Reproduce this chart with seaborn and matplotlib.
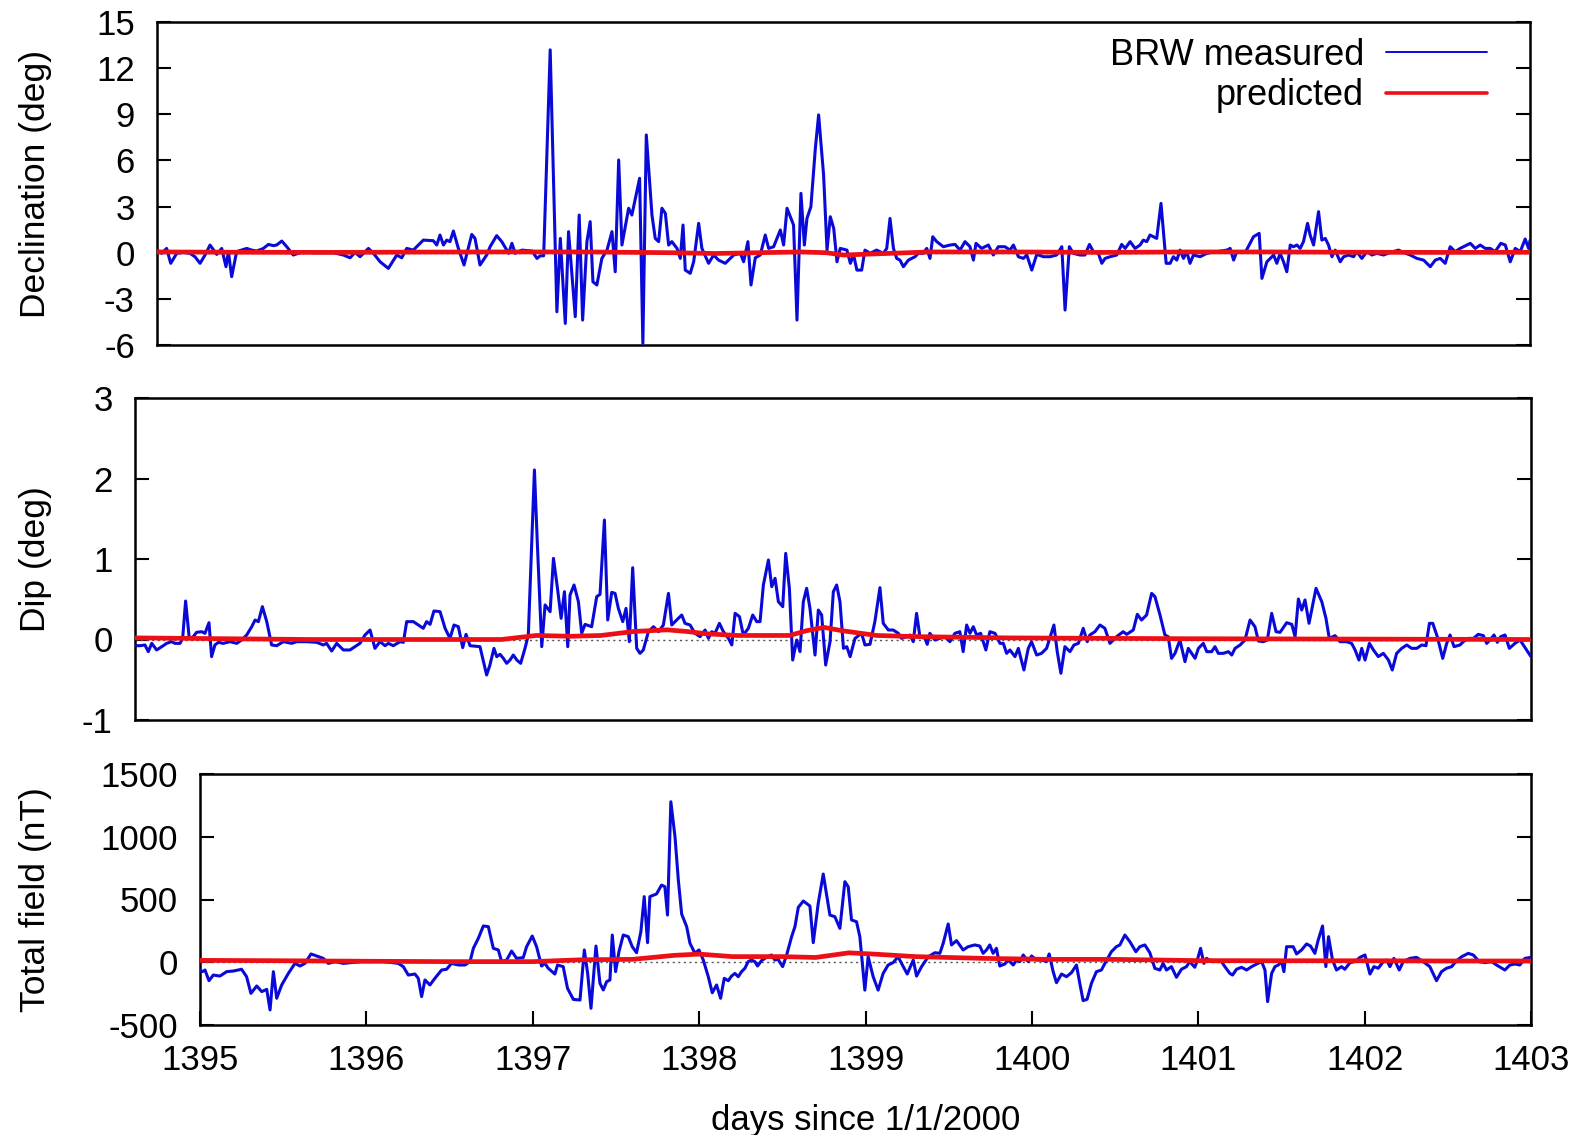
import numpy as np
import pandas as pd
import matplotlib
matplotlib.use("Agg")
import matplotlib.pyplot as plt
import seaborn as sns

DAY0 = 1395

# ---- Declination measured: (days after DAY0, deg) ----
decl_meas = [
    (0.000, 0.17), (0.027, -0.04), (0.056, 0.28), (0.080, -0.69), (0.115, -0.04), (0.153, 0.02),
    (0.192, -0.04), (0.221, -0.26), (0.251, -0.69), (0.280, -0.15), (0.309, 0.50), (0.348, -0.11),
    (0.377, 0.28), (0.402, -0.91), (0.416, 0.07), (0.435, -1.56), (0.464, 0.07), (0.493, 0.17),
    (0.523, 0.28), (0.552, 0.17), (0.581, 0.11), (0.620, 0.28), (0.649, 0.54), (0.678, 0.46),
    (0.697, 0.50), (0.727, 0.76), (0.756, 0.39), (0.794, -0.15), (0.824, -0.04), (0.853, 0.07),
    (0.911, 0.0), (0.969, 0.0), (1.028, 0.0), (1.086, -0.15), (1.125, -0.33), (1.154, 0.02),
    (1.183, -0.26), (1.232, 0.28), (1.261, -0.04), (1.300, -0.59), (1.348, -1.02), (1.397, -0.15),
    (1.426, -0.33), (1.455, 0.28), (1.494, 0.17), (1.513, 0.39), (1.552, 0.82), (1.610, 0.78),
    (1.630, 0.50), (1.649, 1.15), (1.669, 0.50), (1.688, 0.82), (1.707, 0.72), (1.727, 1.41),
    (1.756, 0.28), (1.789, -0.80), (1.834, 1.19), (1.853, 0.93), (1.882, -0.80), (1.921, -0.15),
    (1.941, 0.39), (1.979, 1.11), (2.009, 0.72), (2.049, -0.04), (2.068, 0.61), (2.087, -0.04),
    (2.126, 0.17), (2.185, 0.11), (2.214, -0.37), (2.233, -0.20), (2.253, -0.20), (2.291, 13.19),
    (2.330, -3.84), (2.350, 0.93), (2.379, -4.60), (2.398, 1.37), (2.437, -4.16), (2.460, 2.45),
    (2.480, -4.38), (2.505, 0.72), (2.524, 2.02), (2.540, -1.89), (2.563, -2.10), (2.592, -0.37),
    (2.622, 0.17), (2.651, 1.37), (2.670, -1.24), (2.690, 6.03), (2.709, 0.50), (2.748, 2.89),
    (2.767, 2.45), (2.812, 4.84), (2.831, -5.90), (2.851, 7.66), (2.884, 2.45), (2.903, 0.93),
    (2.923, 0.72), (2.942, 2.89), (2.962, 2.56), (2.981, 0.50), (3.000, 0.72), (3.030, 0.28),
    (3.049, -0.37), (3.065, 1.80), (3.078, -1.13), (3.107, -1.34), (3.127, -0.59), (3.156, 1.91),
    (3.175, 0.28), (3.214, -0.69), (3.243, -0.15), (3.272, -0.48), (3.311, -0.69), (3.360, -0.15),
    (3.399, -0.04), (3.418, -0.59), (3.443, 0.72), (3.461, -2.10), (3.486, -0.33), (3.515, -0.15),
    (3.544, 1.15), (3.564, 0.28), (3.593, 0.39), (3.632, 1.48), (3.651, 0.50), (3.671, 2.89),
    (3.709, 1.80), (3.729, -4.38), (3.752, 3.86), (3.772, 0.50), (3.787, 2.23), (3.810, 2.99),
    (3.836, 6.79), (3.855, 8.96), (3.884, 5.05), (3.904, 0.17), (3.923, 2.34), (3.943, 1.58),
    (3.962, -0.59), (3.981, 0.28), (4.020, 0.17), (4.040, -0.69), (4.059, -0.15), (4.078, -1.13),
    (4.106, -1.13), (4.125, 0.17), (4.155, -0.04), (4.193, 0.17), (4.232, -0.04), (4.252, 0.28),
    (4.271, 2.23), (4.291, 0.28), (4.310, -0.37), (4.329, -0.48), (4.349, -0.91), (4.378, -0.48),
    (4.417, -0.26), (4.436, -0.04), (4.465, -0.04), (4.485, 0.28), (4.504, -0.37), (4.520, 1.04),
    (4.543, 0.72), (4.582, 0.39), (4.621, 0.50), (4.650, 0.54), (4.679, 0.17), (4.708, 0.72),
    (4.737, 0.39), (4.757, -0.48), (4.772, 0.61), (4.805, 0.28), (4.844, 0.50), (4.873, -0.15),
    (4.902, 0.39), (4.941, 0.39), (4.970, 0.17), (4.990, 0.50), (5.019, -0.26), (5.048, -0.37),
    (5.068, -0.15), (5.097, -1.13), (5.126, -0.11), (5.165, -0.26), (5.204, -0.26), (5.242, -0.15),
    (5.272, 0.39), (5.291, -3.73), (5.316, 0.39), (5.339, -0.04), (5.378, -0.15), (5.407, -0.15),
    (5.433, 0.54), (5.456, 0.07), (5.485, -0.04), (5.505, -0.69), (5.524, -0.37), (5.553, -0.26),
    (5.592, -0.15), (5.621, 0.54), (5.641, 0.28), (5.670, 0.72), (5.699, 0.28), (5.728, 0.50),
    (5.747, 0.82), (5.767, 0.72), (5.786, 1.15), (5.825, 0.93), (5.850, 3.21), (5.880, -0.69),
    (5.903, -0.69), (5.922, -0.26), (5.942, -0.48), (5.961, 0.17), (5.981, -0.37), (6.000, 0.07),
    (6.019, -0.69), (6.039, -0.15), (6.078, -0.26), (6.117, -0.04), (6.175, 0.07), (6.234, 0.17),
    (6.253, 0.28), (6.273, -0.48), (6.292, 0.07), (6.341, 0.02), (6.389, 1.04), (6.422, 1.26),
    (6.438, -1.67), (6.467, -0.59), (6.506, -0.15), (6.525, -0.69), (6.544, -0.04), (6.564, -0.59),
    (6.583, -1.24), (6.603, 0.50), (6.622, 0.39), (6.642, 0.50), (6.661, 0.28), (6.680, 0.72),
    (6.704, 1.91), (6.719, 1.15), (6.739, 0.50), (6.768, 2.67), (6.787, 0.82), (6.807, 0.93),
    (6.826, 0.50), (6.846, -0.26), (6.865, 0.17), (6.894, -0.59), (6.914, -0.26), (6.943, -0.15),
    (6.972, -0.26), (6.991, 0.07), (7.020, -0.37), (7.050, 0.07), (7.079, -0.15), (7.108, -0.04),
    (7.147, -0.15), (7.186, 0.02), (7.234, 0.17), (7.263, 0.02), (7.302, -0.15), (7.341, -0.37),
    (7.380, -0.48), (7.419, -0.91), (7.448, -0.48), (7.477, -0.37), (7.506, -0.69), (7.535, 0.39),
    (7.564, 0.07), (7.593, 0.28), (7.613, 0.39), (7.652, 0.61), (7.681, 0.28), (7.710, 0.50),
    (7.739, 0.28), (7.768, 0.28), (7.797, 0.07), (7.830, 0.61), (7.856, 0.50), (7.885, -0.59),
    (7.914, 0.28), (7.943, 0.07), (7.972, 0.89), (7.992, 0.28), (8.000, 0.80),
]
decl_pred_t = [0, 0.5, 1, 1.5, 2, 2.5, 3, 3.25, 3.5, 3.75, 3.9, 4.0, 4.25, 4.5, 5, 5.5, 6, 6.5, 7, 7.5, 8]
decl_pred_v = [0.05, 0.03, 0.02, 0.04, 0.05, 0.05, 0.0, -0.05, 0.0, 0.05, 0.0, -0.15, -0.05, 0.05,
               0.05, 0.02, 0.05, 0.05, 0.03, 0.02, 0.03]

# ---- Dip measured: (days after DAY0, deg) ----
dip_meas = [
    (0.000, -0.077), (0.029, -0.077), (0.057, -0.068), (0.076, -0.151), (0.096, -0.048), (0.124, -0.130),
    (0.162, -0.077), (0.181, -0.048), (0.210, -0.027), (0.229, -0.048), (0.258, -0.048), (0.273, 0.014),
    (0.290, 0.478), (0.311, 0.014), (0.334, 0.035), (0.353, 0.089), (0.382, 0.097), (0.401, 0.077),
    (0.424, 0.209), (0.439, -0.213), (0.458, -0.068), (0.478, -0.035), (0.506, -0.048), (0.544, -0.027),
    (0.583, -0.048), (0.611, -0.006), (0.640, 0.056), (0.669, 0.159), (0.688, 0.242), (0.707, 0.222),
    (0.730, 0.408), (0.755, 0.222), (0.783, -0.068), (0.812, -0.077), (0.850, -0.027), (0.898, -0.048),
    (0.926, -0.027), (0.984, -0.027), (1.041, -0.035), (1.079, -0.068), (1.098, -0.048), (1.127, -0.143),
    (1.156, -0.048), (1.194, -0.130), (1.232, -0.130), (1.289, -0.048), (1.318, 0.056), (1.347, 0.118),
    (1.375, -0.110), (1.404, -0.027), (1.433, -0.077), (1.452, -0.048), (1.480, -0.077), (1.519, -0.027),
    (1.538, -0.035), (1.557, 0.222), (1.595, 0.222), (1.652, 0.139), (1.671, 0.222), (1.691, 0.188),
    (1.713, 0.354), (1.748, 0.346), (1.777, 0.139), (1.805, 0.014), (1.828, 0.180), (1.853, 0.159),
    (1.878, -0.101), (1.897, 0.064), (1.920, -0.077), (1.977, -0.089), (2.015, -0.441), (2.034, -0.317),
    (2.057, -0.110), (2.073, -0.213), (2.092, -0.184), (2.111, -0.234), (2.130, -0.296), (2.149, -0.255),
    (2.168, -0.193), (2.188, -0.255), (2.210, -0.296), (2.235, -0.110), (2.254, 0.056), (2.289, 2.106),
    (2.306, 1.174), (2.331, -0.089), (2.350, 0.429), (2.379, 0.346), (2.398, 1.008), (2.421, 0.636),
    (2.442, 0.263), (2.461, 0.594), (2.480, -0.089), (2.493, 0.553), (2.516, 0.677), (2.541, 0.470),
    (2.560, 0.077), (2.579, 0.188), (2.617, 0.159), (2.646, 0.532), (2.665, 0.561), (2.690, 1.484),
    (2.709, 0.242), (2.732, 0.586), (2.751, 0.573), (2.770, 0.387), (2.795, 0.222), (2.814, 0.387),
    (2.833, -0.027), (2.852, 0.892), (2.875, -0.110), (2.894, -0.172), (2.913, -0.130), (2.942, 0.097),
    (2.971, 0.159), (3.000, 0.097), (3.028, 0.180), (3.057, 0.573), (3.076, 0.180), (3.104, 0.242),
    (3.133, 0.304), (3.152, 0.201), (3.181, 0.180), (3.209, 0.077), (3.238, 0.035), (3.267, 0.118),
    (3.286, 0.014), (3.305, 0.097), (3.324, 0.077), (3.349, 0.201), (3.372, 0.097), (3.401, 0.014),
    (3.420, -0.068), (3.439, 0.325), (3.464, 0.284), (3.486, 0.056), (3.515, 0.139), (3.540, 0.304),
    (3.563, 0.222), (3.582, 0.222), (3.601, 0.677), (3.630, 0.988), (3.649, 0.656), (3.668, 0.760),
    (3.687, 0.470), (3.712, 0.408), (3.729, 1.070), (3.750, 0.636), (3.769, -0.255), (3.792, -0.006),
    (3.811, -0.151), (3.830, 0.470), (3.849, 0.636), (3.868, 0.387), (3.897, -0.193), (3.916, 0.366),
    (3.935, 0.304), (3.958, -0.317), (3.983, -0.027), (4.002, 0.594), (4.021, 0.677), (4.040, 0.470),
    (4.060, -0.110), (4.079, -0.089), (4.098, -0.213), (4.126, 0.014), (4.164, 0.077), (4.183, -0.068),
    (4.212, -0.060), (4.240, 0.222), (4.269, 0.644), (4.288, 0.201), (4.317, 0.118), (4.345, 0.118),
    (4.374, 0.077), (4.393, 0.014), (4.422, 0.035), (4.441, 0.056), (4.460, -0.027), (4.479, 0.325),
    (4.498, 0.035), (4.527, 0.014), (4.540, -0.060), (4.555, 0.077), (4.584, -0.006), (4.613, 0.014),
    (4.641, 0.035), (4.670, -0.027), (4.699, 0.077), (4.727, 0.097), (4.746, -0.151), (4.766, 0.180),
    (4.785, 0.077), (4.804, 0.159), (4.823, 0.056), (4.846, 0.077), (4.876, -0.130), (4.899, 0.097),
    (4.928, 0.077), (4.957, -0.048), (4.976, -0.048), (4.995, -0.172), (5.014, -0.130), (5.043, -0.213),
    (5.062, -0.110), (5.094, -0.379), (5.119, -0.110), (5.138, -0.027), (5.167, -0.193), (5.195, -0.172),
    (5.224, -0.110), (5.266, 0.180), (5.285, -0.151), (5.306, -0.420), (5.329, -0.089), (5.358, -0.151),
    (5.381, -0.068), (5.406, -0.048), (5.434, 0.139), (5.457, -0.027), (5.472, 0.056), (5.501, 0.097),
    (5.530, 0.180), (5.558, 0.139), (5.587, -0.048), (5.606, -0.006), (5.625, 0.035), (5.663, 0.097),
    (5.683, 0.064), (5.721, 0.118), (5.744, 0.313), (5.768, 0.242), (5.797, 0.304), (5.826, 0.573),
    (5.845, 0.532), (5.874, 0.304), (5.902, 0.056), (5.921, 0.035), (5.940, -0.234), (5.960, -0.172),
    (5.988, -0.006), (6.017, -0.275), (6.036, -0.110), (6.075, -0.234), (6.094, -0.110), (6.122, -0.048),
    (6.142, -0.151), (6.170, -0.151), (6.189, -0.089), (6.208, -0.172), (6.237, -0.172), (6.266, -0.151),
    (6.285, -0.193), (6.304, -0.110), (6.333, -0.068), (6.361, -0.006), (6.390, 0.242), (6.418, 0.159),
    (6.438, -0.019), (6.466, -0.027), (6.489, -0.006), (6.514, 0.325), (6.539, 0.097), (6.562, 0.089),
    (6.600, 0.209), (6.629, 0.188), (6.648, 0.035), (6.667, 0.503), (6.686, 0.366), (6.705, 0.491),
    (6.728, 0.201), (6.768, 0.636), (6.801, 0.470), (6.825, 0.263), (6.844, 0.014), (6.877, 0.048),
    (6.906, -0.027), (6.944, -0.027), (6.972, -0.048), (6.992, -0.130), (7.014, -0.255), (7.030, -0.110),
    (7.049, -0.255), (7.074, -0.048), (7.097, -0.130), (7.125, -0.213), (7.154, -0.172), (7.183, -0.255),
    (7.205, -0.379), (7.230, -0.172), (7.259, -0.110), (7.288, -0.068), (7.316, -0.110), (7.345, -0.110),
    (7.374, -0.068), (7.398, -0.077), (7.418, 0.201), (7.437, 0.201), (7.463, 0.035), (7.494, -0.234),
    (7.517, -0.048), (7.536, 0.056), (7.559, -0.089), (7.593, -0.068), (7.612, -0.027), (7.641, 0.014),
    (7.670, 0.014), (7.698, 0.064), (7.727, 0.048), (7.746, -0.048), (7.765, -0.006), (7.788, 0.056),
    (7.807, -0.035), (7.826, 0.035), (7.851, 0.056), (7.876, -0.110), (7.908, -0.048), (7.937, -0.006),
    (7.966, -0.101), (8.000, -0.213),
]
dip_pred_t = [0, 0.5, 1, 1.5, 2, 2.1, 2.3, 2.5, 2.67, 2.86, 3.05, 3.16, 3.28, 3.45, 3.75, 3.85, 3.95,
              4.05, 4.15, 4.25, 4.5, 5, 5.5, 6, 7, 8]
dip_pred_v = [0.02, 0.01, 0.0, 0.0, 0.0, 0.0, 0.05, 0.04, 0.05, 0.10, 0.12, 0.10, 0.07, 0.05, 0.05,
              0.11, 0.15, 0.11, 0.08, 0.05, 0.035, 0.02, 0.015, 0.01, 0.005, 0.0]

# ---- Total field measured: (days after DAY0, nT) ----
total_meas = [
    (0.000, -62), (0.014, -75), (0.030, -62), (0.054, -147), (0.080, -102), (0.120, -110), (0.160, -75),
    (0.200, -70), (0.250, -56), (0.280, -115), (0.306, -248), (0.341, -189), (0.371, -234), (0.401, -216),
    (0.421, -380), (0.441, -75), (0.461, -287), (0.491, -181), (0.531, -89), (0.571, -9), (0.601, -30),
    (0.631, -9), (0.667, 66), (0.701, 50), (0.741, 31), (0.771, -9), (0.811, 5), (0.861, -9), (0.911, -3),
    (0.972, 5), (1.032, 5), (1.072, 13), (1.122, 2), (1.152, -3), (1.192, -9), (1.222, -35), (1.252, -102),
    (1.292, -94), (1.312, -128), (1.332, -274), (1.352, -141), (1.382, -181), (1.412, -128), (1.452, -62),
    (1.482, -56), (1.512, -9), (1.553, -22), (1.593, -22), (1.623, 5), (1.643, 111), (1.673, 191),
    (1.703, 289), (1.733, 284), (1.763, 111), (1.793, 98), (1.813, 5), (1.843, 18), (1.873, 89),
    (1.903, 31), (1.943, 37), (1.963, 124), (1.997, 209), (2.023, 124), (2.053, -30), (2.073, -9),
    (2.093, -48), (2.133, -94), (2.149, -22), (2.183, -35), (2.209, -208), (2.244, -296), (2.284, -301),
    (2.310, 98), (2.330, -89), (2.350, -367), (2.380, 129), (2.404, -168), (2.424, -221), (2.444, -155),
    (2.464, -141), (2.478, 217), (2.498, -75), (2.518, 84), (2.544, 217), (2.574, 204), (2.598, 124),
    (2.624, 76), (2.650, 244), (2.670, 523), (2.690, 156), (2.704, 523), (2.744, 544), (2.774, 615),
    (2.794, 602), (2.810, 376), (2.830, 1279), (2.855, 1000), (2.875, 655), (2.895, 384), (2.925, 284),
    (2.945, 151), (2.975, 71), (2.999, 98), (3.025, 18), (3.055, -115), (3.079, -243), (3.105, -181),
    (3.129, -287), (3.151, -128), (3.175, -147), (3.195, -110), (3.215, -89), (3.235, -115), (3.255, -75),
    (3.275, -48), (3.295, 5), (3.315, 18), (3.335, 5), (3.351, -30), (3.375, 13), (3.405, 39), (3.435, 58),
    (3.455, 18), (3.475, 23), (3.502, -35), (3.526, 58), (3.556, 204), (3.576, 284), (3.596, 437),
    (3.626, 488), (3.666, 448), (3.686, 156), (3.716, 470), (3.746, 703), (3.786, 376), (3.816, 363),
    (3.846, 270), (3.876, 642), (3.896, 602), (3.916, 337), (3.946, 323), (3.966, 204), (3.996, -222),
    (4.016, 44), (4.046, -115), (4.076, -222), (4.106, -89), (4.136, -22), (4.166, -3), (4.196, 44),
    (4.227, -35), (4.251, -94), (4.287, 18), (4.307, -110), (4.337, -35), (4.377, 44), (4.417, 76),
    (4.447, 71), (4.467, 151), (4.497, 305), (4.517, 138), (4.547, 172), (4.587, 98), (4.617, 124),
    (4.657, 138), (4.687, 129), (4.707, 71), (4.727, 98), (4.747, 138), (4.767, 71), (4.787, 111),
    (4.807, -30), (4.837, -14), (4.857, 18), (4.888, -22), (4.908, 18), (4.928, 5), (4.948, 58),
    (4.978, 5), (4.998, 50), (5.028, 18), (5.058, 18), (5.088, 5), (5.104, 66), (5.128, -75),
    (5.148, -163), (5.178, -94), (5.208, -115), (5.238, -83), (5.268, -22), (5.288, -168), (5.308, -306),
    (5.332, -295), (5.358, -168), (5.388, -75), (5.418, -62), (5.448, 13), (5.478, 84), (5.508, 124),
    (5.529, 138), (5.559, 217), (5.589, 164), (5.625, 84), (5.649, 124), (5.679, 138), (5.709, 76),
    (5.739, -48), (5.769, -62), (5.789, -9), (5.809, -62), (5.839, -35), (5.869, -120), (5.899, -56),
    (5.929, -35), (5.949, 5), (5.979, -40), (5.990, -3), (6.014, 111), (6.034, -9), (6.050, 31),
    (6.080, 5), (6.110, 5), (6.140, 5), (6.160, -35), (6.190, -89), (6.206, -102), (6.230, -56),
    (6.260, -40), (6.291, -62), (6.321, -35), (6.351, -14), (6.381, 5), (6.401, -62), (6.417, -314),
    (6.441, -89), (6.461, -35), (6.481, -22), (6.501, 5), (6.515, -75), (6.531, 124), (6.571, 124),
    (6.591, 66), (6.621, 98), (6.651, 146), (6.675, 129), (6.701, 71), (6.721, 177), (6.747, 289),
    (6.767, -35), (6.783, 204), (6.807, 18), (6.831, -62), (6.861, -35), (6.881, -56), (6.912, -3),
    (6.942, 5), (6.972, 39), (7.002, 58), (7.032, -94), (7.056, -35), (7.082, -48), (7.112, 5),
    (7.132, 18), (7.152, -35), (7.176, 31), (7.208, -62), (7.232, 5), (7.272, 31), (7.312, 39),
    (7.352, 5), (7.392, -35), (7.432, -147), (7.462, -75), (7.492, -48), (7.523, -35), (7.553, 13),
    (7.583, 44), (7.623, 71), (7.653, 58), (7.689, 5), (7.723, -3), (7.763, 5), (7.793, -22),
    (7.843, -62), (7.873, -22), (7.903, -14), (7.933, -22), (7.963, 31), (8.000, 39),
]
total_pred_t = [0, 0.5, 1, 1.5, 2, 2.3, 2.6, 2.85, 3.0, 3.2, 3.5, 3.7, 3.9, 4.05, 4.3, 4.7, 5.1, 5.5,
                6, 6.5, 7, 7.5, 8]
total_pred_v = [15, 12, 8, 5, 5, 20, 23, 55, 65, 45, 45, 38, 75, 65, 45, 31, 23, 23, 13, 12, 12, 10, 10]

x_ticks = [1395, 1396, 1397, 1398, 1399, 1400, 1401, 1402, 1403]
decl_ticks = [-6, -3, 0, 3, 6, 9, 12, 15]
dip_ticks = [-1, 0, 1, 2, 3]
total_ticks = [-500, 0, 500, 1000, 1500]

BLUE = "#0a0ad8"
RED = "#ec1016"

sns.set_style("ticks")
plt.rcParams["font.family"] = ["Liberation Sans", "DejaVu Sans"]
plt.rcParams["text.color"] = "black"
plt.rcParams["axes.labelcolor"] = "black"
plt.rcParams["xtick.color"] = "black"
plt.rcParams["ytick.color"] = "black"
FS = 25

W, H = 1589, 1135
fig = plt.figure(figsize=(W / 100, H / 100), dpi=100)


def add_axes_px(left, top, right, bottom):
    return fig.add_axes([left / W, 1 - bottom / H, (right - left) / W, (bottom - top) / H])


ax1 = add_axes_px(157, 22, 1530, 345)
ax2 = add_axes_px(135, 398, 1531, 720)
ax3 = add_axes_px(200, 774, 1531, 1025)


def draw(ax, meas, pt, pv, ylim, yticks, ylabel, label_x):
    dm = pd.DataFrame(meas, columns=["t", "v"])
    dm["t"] = dm["t"] + DAY0
    dp = pd.DataFrame({"t": np.array(pt) + DAY0, "v": pv})
    ax.axhline(0, color="#555555", lw=1.0, ls=(0, (1.5, 2.5)), zorder=1)
    sns.lineplot(data=dm, x="t", y="v", ax=ax, color=BLUE, lw=2.2, estimator=None,
                 sort=False, label="BRW measured", zorder=3)
    sns.lineplot(data=dp, x="t", y="v", ax=ax, color=RED, lw=3.4, estimator=None,
                 sort=False, label="predicted", zorder=4)
    ax.set_xlim(1395, 1403)
    ax.set_ylim(*ylim)
    ax.set_yticks(yticks)
    ax.set_yticklabels([str(v) for v in yticks])
    ax.tick_params(axis="y", direction="in", left=True, right=True, length=10, width=1.5,
                   labelsize=FS, pad=16, colors="black")
    ax.set_ylabel(ylabel, fontsize=25.5, color="black")
    ax.yaxis.set_label_coords(label_x, 0.5)
    ax.set_xlabel("")
    for s in ax.spines.values():
        s.set_linewidth(1.8)
        s.set_color("black")
    leg = ax.get_legend()
    if leg is not None:
        leg.remove()


draw(ax1, decl_meas, decl_pred_t, decl_pred_v, (-6, 15), decl_ticks, "Declination (deg)",
     (52 - 157) / 1373)
draw(ax2, dip_meas, dip_pred_t, dip_pred_v, (-1, 3), dip_ticks, "Dip (deg)",
     (52 - 135) / 1396)
draw(ax3, total_meas, total_pred_t, total_pred_v, (-500, 1500), total_ticks, "Total field (nT)",
     (52 - 200) / 1331)

for ax in (ax1, ax2):
    ax.set_xticks([])
    ax.tick_params(axis="x", bottom=False, top=False, labelbottom=False)

ax3.set_xticks(x_ticks)
ax3.set_xticklabels([str(v) for v in x_ticks])
ax3.tick_params(axis="x", direction="in", bottom=True, top=False, length=10, width=1.5,
                labelsize=FS, pad=14, colors="black")
ax3.set_xlabel("days since 1/1/2000", fontsize=FS, labelpad=19, color="black")

handles, labels = ax1.get_legend_handles_labels()
leg = ax1.legend(handles[:2], labels[:2], loc="upper right",
                 bbox_to_anchor=((1487 - 157) / 1373, 1 - (38 - 22) / 323),
                 frameon=False, markerfirst=False, fontsize=26, handlelength=2.8,
                 handletextpad=0.6, labelspacing=0.15, borderaxespad=0, borderpad=0)
for line, lw in zip(leg.get_lines(), (1.4, 2.6)):
    line.set_linewidth(lw)
for t in leg.get_texts():
    t.set_color("black")

fig.savefig("out.png", dpi=100)
